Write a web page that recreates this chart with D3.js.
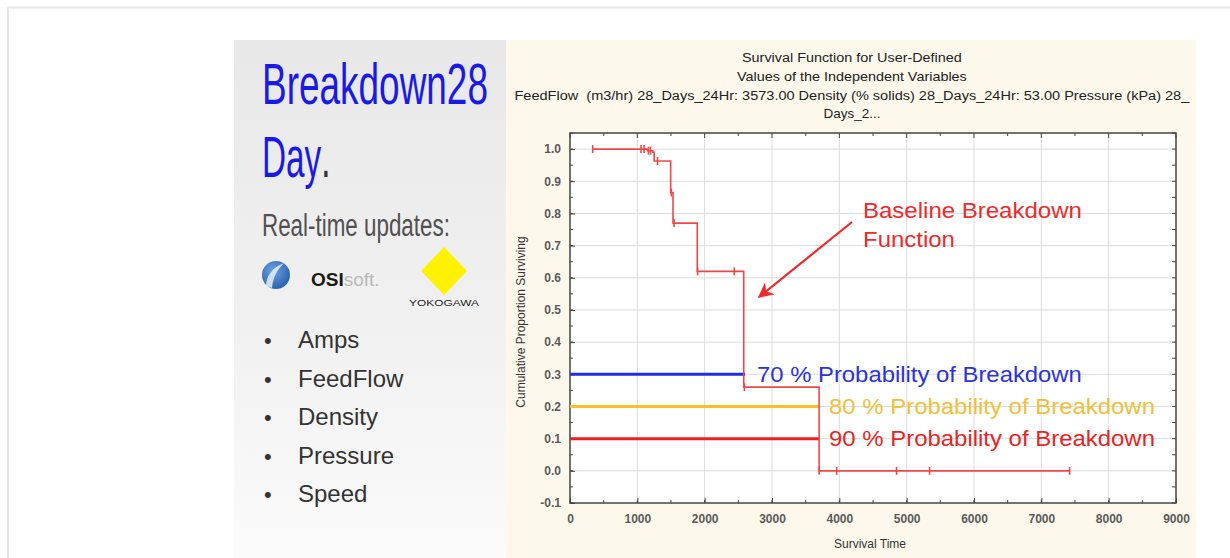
<!DOCTYPE html>
<html><head><meta charset="utf-8">
<script src="https://cdn.jsdelivr.net/npm/d3@7"></script>
<style>
html,body{margin:0;padding:0;background:#fff;}
svg{display:block;}
text{font-family:"Liberation Sans",Arial,sans-serif;}
</style></head>
<body><svg id="c" width="1230" height="558"></svg>
<script>
// ---------- data ----------
const xTicks = [0,1000,2000,3000,4000,5000,6000,7000,8000,9000];
const yTicks = [-0.1,0.0,0.1,0.2,0.3,0.4,0.5,0.6,0.7,0.8,0.9,1.0];
const stepTimes = [337,1150,1230,1250,1495,1530,1890,2580,3700,7420];
const stepSurv  = [1.0,0.995,0.99,0.963,0.865,0.77,0.62,0.26,0.0,0.0];
const censorTimes = [337,1055,1100,1165,1195,1300,1505,1545,1895,2440,2590,3700,3960,4850,5340,7420];
const censorSurv  = [1.0,1.0,1.0,0.995,0.995,0.963,0.865,0.77,0.62,0.62,0.26,0.0,0.0,0.0,0.0,0.0];
const thresholdValues = [0.3,0.2,0.1];
const thresholdEnds = [2600,3700,3700];
const thresholdLabels = ["70 % Probability of Breakdown","80 % Probability of Breakdown","90 % Probability of Breakdown"];
const titleLines = ["Survival Function for User-Defined","Values of the Independent Variables",
  "FeedFlow  (m3/hr) 28_Days_24Hr: 3573.00 Density (% solids) 28_Days_24Hr: 53.00 Pressure (kPa) 28_","Days_2..."];
const bulletItems = ["Amps","FeedFlow","Density","Pressure","Speed"];

// ---------- helpers ----------
const svg = d3.select("#c");
// place a text horizontally scaled so that it spans `w` pixels; anchor: "start" or "middle"
function fitText(parent, str, x0, y0, w, anchor, attrs){
  const t = parent.append("text").attr("x",0).attr("y",0).attr("text-anchor","start");
  Object.entries(attrs||{}).forEach(([k,v])=>t.attr(k,v));
  t.text(str);
  const nat = t.node().getComputedTextLength();
  const s = w/nat;
  const left = anchor==="middle" ? x0 - w/2 : x0;
  t.attr("transform",`translate(${left},${y0}) scale(${s},1)`);
  return t;
}

// ---------- layout ----------
const defs = svg.append("defs");
const g1 = defs.append("linearGradient").attr("id","lg").attr("x1",0).attr("y1",0).attr("x2",0).attr("y2",1);
g1.append("stop").attr("offset","0%").attr("stop-color","#e8e8e8");
g1.append("stop").attr("offset","55%").attr("stop-color","#f1f1f1");
g1.append("stop").attr("offset","100%").attr("stop-color","#fbfbfb");
defs.append("marker").attr("id","ah").attr("viewBox","0 0 10 10").attr("refX",9).attr("refY",5)
  .attr("markerWidth",7).attr("markerHeight",7).attr("orient","auto-start-reverse")
  .append("path").attr("d","M0,0 L10,5 L0,10 L3,5 Z").attr("fill","#ee2a2a");

// frame
svg.append("line").attr("x1",8).attr("x2",1230).attr("y1",7.5).attr("y2",7.5).attr("stroke","#e6e6e6").attr("stroke-width",2);
svg.append("line").attr("x1",8).attr("x2",8).attr("y1",7).attr("y2",558).attr("stroke","#e6e6e6").attr("stroke-width",2);

// panels
svg.append("rect").attr("x",234).attr("y",40).attr("width",272).attr("height",518).attr("fill","url(#lg)");
svg.append("rect").attr("x",506).attr("y",40).attr("width",690).attr("height",518).attr("fill","#fcf8ec");

// ---------- left panel ----------
fitText(svg,"Breakdown28",262,104,226,"start",{"font-size":58,"fill":"#1a1ae6"});
const dayT = svg.append("text").attr("font-size",58);
dayT.append("tspan").attr("fill","#1a1ae6").text("Day");
dayT.append("tspan").attr("fill","#333").text(".");
{ const nat = dayT.node().getComputedTextLength(); dayT.attr("transform",`translate(262,177) scale(${66/nat},1)`); }
fitText(svg,"Real-time updates:",262,236,188,"start",{"font-size":31,"fill":"#505050"});

// OSIsoft logo
const og = defs.append("radialGradient").attr("id","og").attr("cx","40%").attr("cy","35%").attr("r","75%");
og.append("stop").attr("offset","0%").attr("stop-color","#6fa3e0");
og.append("stop").attr("offset","100%").attr("stop-color","#1f5aa8");
svg.append("circle").attr("cx",276).attr("cy",275).attr("r",14).attr("fill","url(#og)");
svg.append("path").attr("d","M266,286 C266,276 272,268 284,263 C277,270 273,277 272,288 Z").attr("fill","#e6eef8").attr("opacity",0.85);
const osi = svg.append("text").attr("x",311).attr("y",286).attr("font-size",19);
osi.append("tspan").attr("font-weight","bold").attr("fill","#1a1a1a").text("OSI");
osi.append("tspan").attr("fill","#b8b8b8").text("soft.");

// Yokogawa logo
svg.append("path").attr("d","M444,247 L467,271 L444,295 L421,271 Z").attr("fill","#fff200");
fitText(svg,"YOKOGAWA",444,306,70,"middle",{"font-size":9.5,"fill":"#222"});

// bullets
bulletItems.forEach((d,i)=>{
  const y = 348 + i*38.5;
  svg.append("text").attr("x",264).attr("y",y).attr("font-size",22).attr("fill","#333").text("•");
  svg.append("text").attr("x",298).attr("y",y).attr("font-size",24).attr("fill","#333").text(d);
});

// ---------- chart ----------
const L=570, R=1176, T=133, B=503;
const x = d3.scaleLinear().domain([0,9000]).range([L,R]);
const y = d3.scaleLinear().domain([-0.1,1.05]).range([B,T]);

// titles
const titleY = [62,81,100,118];
const titleW = [220,230,675,57];
titleLines.forEach((t,i)=>{
  fitText(svg,t,852,titleY[i],titleW[i],"middle",{"font-size":12.5,"fill":"#222","style":"white-space:pre"});
});

svg.append("rect").attr("x",L).attr("y",T).attr("width",R-L).attr("height",B-T).attr("fill","#fff");

// grid
const grid = svg.append("g");
grid.selectAll(".gx").data(xTicks.slice(1,-1)).enter().append("line")
  .attr("x1",d=>x(d)).attr("x2",d=>x(d)).attr("y1",T).attr("y2",B).attr("stroke","#dcdcdc");
grid.selectAll(".gy").data(yTicks.slice(1)).enter().append("line")
  .attr("x1",L).attr("x2",R).attr("y1",d=>y(d)).attr("y2",d=>y(d)).attr("stroke","#dcdcdc");

// axes (ticks inward)
const minorX = d3.range(0,9001,500);
const minorY = d3.range(-0.1,1.051,0.05);
const axB = d3.axisBottom(x).tickValues(xTicks).tickSize(-5).tickPadding(11).tickFormat(d3.format("d"));
const axL = d3.axisLeft(y).tickValues(yTicks).tickSize(-5).tickPadding(9).tickFormat(d3.format(".1f"));
const gB = svg.append("g").attr("transform",`translate(0,${B})`).call(axB);
const gL = svg.append("g").attr("transform",`translate(${L},0)`).call(axL);
[gB,gL].forEach(g=>{
  g.select(".domain").remove();
  g.selectAll(".tick line").attr("stroke","#444");
  g.selectAll(".tick text").attr("font-size",12).attr("font-weight","bold").attr("fill","#5a5a5a")
    .attr("font-family",'"Liberation Sans",Arial,sans-serif');
});
gL.selectAll(".tick text").text(d=>d3.format(".1f")(d).replace("−","-"));
// top & right ticks
const tk = svg.append("g").attr("stroke","#444");
tk.selectAll(".mt").data(minorX).enter().append("line")
  .attr("x1",d=>x(d)).attr("x2",d=>x(d)).attr("y1",T).attr("y2",d=>T+(d%1000===0?5:3));
tk.selectAll(".mb").data(minorX).enter().append("line")
  .attr("x1",d=>x(d)).attr("x2",d=>x(d)).attr("y1",B).attr("y2",B-3);
tk.selectAll(".mr").data(minorY).enter().append("line")
  .attr("x1",R).attr("x2",R-4).attr("y1",d=>y(d)).attr("y2",d=>y(d));
tk.selectAll(".ml").data(minorY).enter().append("line")
  .attr("x1",L).attr("x2",L+3).attr("y1",d=>y(d)).attr("y2",d=>y(d));
svg.append("rect").attr("x",L).attr("y",T).attr("width",R-L).attr("height",B-T)
  .attr("fill","none").attr("stroke","#444").attr("stroke-width",1.5);

// axis titles
svg.append("text").attr("x",870).attr("y",548).attr("text-anchor","middle").attr("font-size",12).attr("fill","#333").text("Survival Time");
svg.append("text").attr("transform","translate(525,322) rotate(-90)").attr("text-anchor","middle")
  .attr("font-size",12).attr("fill","#333").text("Cumulative Proportion Surviving");

// threshold lines
const thrColors = ["#1f2de8","#f5c02a","#ee1f1f"];
const txtColors = ["#2b32e0","#f2c038","#e82525"];
thresholdValues.forEach((v,i)=>{
  svg.append("line").attr("x1",x(0)).attr("x2",x(thresholdEnds[i])).attr("y1",y(v)).attr("y2",y(v))
    .attr("stroke",thrColors[i]).attr("stroke-width",3);
});

// survival curve
const pts = stepTimes.map((t,i)=>[t,stepSurv[i]]);
const line = d3.line().x(d=>x(d[0])).y(d=>y(d[1])).curve(d3.curveStepAfter);
svg.append("path").attr("d",line(pts)).attr("fill","none").attr("stroke","#f04848").attr("stroke-width",1.6);
svg.selectAll(".cen").data(censorTimes).enter().append("line")
  .attr("x1",d=>x(d)).attr("x2",d=>x(d))
  .attr("y1",(d,i)=>y(censorSurv[i])-4).attr("y2",(d,i)=>y(censorSurv[i])+4)
  .attr("stroke","#f04848").attr("stroke-width",1.6);

// threshold labels
const labX = [757,829,829];
thresholdValues.forEach((v,i)=>{
  fitText(svg,thresholdLabels[i],labX[i],y(v)+7.5,i===0?325:326,"start",{"font-size":21.5,"fill":txtColors[i]});
});

// annotation
fitText(svg,"Baseline Breakdown",863,218,219,"start",{"font-size":21.5,"fill":"#ee2a2a"});
fitText(svg,"Function",863,247,92,"start",{"font-size":21.5,"fill":"#ee2a2a"});
svg.append("line").attr("x1",852).attr("y1",222).attr("x2",759).attr("y2",297)
  .attr("stroke","#ee2a2a").attr("stroke-width",2.2).attr("marker-end","url(#ah)");
</script></body></html>
